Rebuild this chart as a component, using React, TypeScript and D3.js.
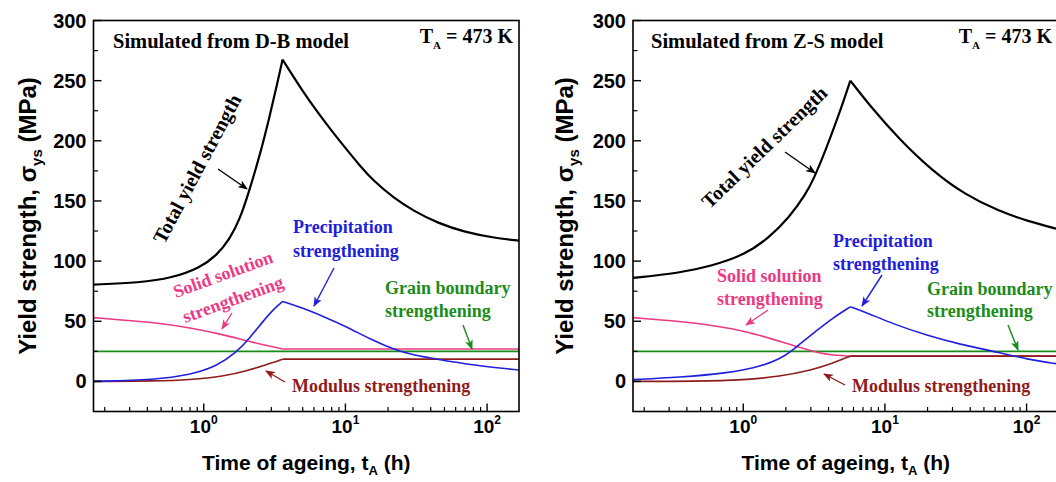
import React from 'react';
import * as d3 from 'd3';

type Pt = [number, number];

// ---------- axes ----------
const X_DOMAIN: [number, number] = [1 / 6, 168];
const Y_DOMAIN: [number, number] = [-25, 300];
const X_MAJOR = [1, 10, 100];
const X_MAJOR_EXP = ['0', '1', '2'];
const Y_MAJOR = [0, 50, 100, 150, 200, 250, 300];
const Y_MINOR = [25, 75, 125, 175, 225, 275];

// ---------- D-B model (left) ----------
const DB_PEAK_T = 3.6;
const dbTotal: Pt[] = [
  [0.167, 80.5], [0.35, 82], [0.6, 86], [0.94, 94.5], [1.23, 104.5], [1.53, 118.5], [1.8, 135],
  [2.06, 155.5], [2.49, 188], [2.93, 221], [3.35, 251], [3.6, 267.5], [5, 241], [6.25, 225],
  [8.15, 207], [10, 194], [12.7, 179], [16, 166], [22, 152.5], [30, 142], [45, 131.5],
  [70, 124], [110, 119.5], [168, 117],
];
const dbSolid: Pt[] = [
  [0.167, 53], [0.46, 49], [0.8, 44.5], [1.37, 39], [2.11, 33], [3.6, 27], [168, 27],
];
const dbGrain: Pt[] = [[0.167, 25], [168, 25]];
const dbModulus: Pt[] = [
  [0.167, 0], [0.46, 0.3], [0.8, 1.4], [1.37, 4], [2.11, 9.5], [2.77, 14], [3.3, 16.7],
  [3.6, 18.5], [168, 18.5],
];
const dbPrecip: Pt[] = [
  [0.167, 0], [0.46, 1.4], [0.8, 5.5], [1.23, 12.5], [1.7, 24], [2.11, 36], [2.62, 50],
  [3.17, 61], [3.6, 66.5], [5, 61], [7, 54], [10, 46], [15, 35], [22, 26.5], [30, 22],
  [44, 18.5], [80, 13.5], [168, 9.5],
];

// ---------- Z-S model (right) ----------
const ZS_PEAK_T = 5.7;
const zsTotal: Pt[] = [
  [0.167, 86], [0.35, 90], [0.6, 96], [1.04, 105.5], [1.52, 119.5], [2.1, 136],
  [2.76, 155.5], [3.15, 168.5], [3.81, 192], [4.49, 214.5], [5.14, 234], [5.7, 250],
  [8.1, 227], [12.6, 201.5], [21.6, 175], [37, 155], [64, 141.5], [100, 133.5], [168, 126.5],
];
const zsSolid: Pt[] = [
  [0.167, 53], [0.46, 49], [1.04, 42], [1.79, 33.5], [3.07, 25], [4.03, 22], [5.7, 21], [168, 21],
];
const zsGrain: Pt[] = [[0.167, 25], [168, 25]];
const zsModulus: Pt[] = [
  [0.167, 0], [0.46, 0], [1.04, 1.3], [1.79, 4], [3.07, 9.5], [4.25, 15], [5.7, 21], [168, 21],
];
const zsPrecip: Pt[] = [
  [0.167, 1.5], [0.35, 3.3], [0.79, 7], [1.36, 12.5], [1.99, 21], [2.47, 30.5], [3.24, 41.5],
  [4.25, 52.5], [5.7, 62], [7.5, 57], [11.3, 48], [20, 38], [33.3, 31], [64, 24], [100, 18.5],
  [168, 14.5],
];

// ---------- styling ----------
const C_TOTAL = '#000000';
const C_SOLID = '#ea3a84';
const C_GRAIN = '#1a8c1a';
const C_MOD = '#8e1c1c';
const C_PREC = '#2020dc';
const SANS = '"Liberation Sans", Arial, sans-serif';
const SERIF = '"Liberation Serif", "Times New Roman", serif';

const FRAME_W = 425.5;
const Y_TOP = 20.5;
const Y_BOT = 411.5;

type Series = { pts: Pt[]; color: string; width: number; split: boolean };

type Label = {
  lines: string[];
  x: number;
  y: number;
  color: string;
  rotate?: number;
  lineGap?: number;
  anchor?: 'start' | 'middle' | 'end';
  size?: number;
};

type Arrow = { x1: number; y1: number; x2: number; y2: number; color: string };

function markerId(color: string) {
  return 'ah' + color.replace('#', '');
}

function Panel(props: {
  x0: number;
  peak: number;
  series: Series[];
  title: string;
  titleX: number;
  taX: number;
  yTitleX: number;
  labels: Label[];
  arrows: Arrow[];
  clipId: string;
}) {
  const { x0, peak, series, title, titleX, taX, yTitleX, labels, arrows, clipId } = props;
  const x = d3.scaleLog().domain(X_DOMAIN).range([x0, x0 + FRAME_W]);
  const y = d3.scaleLinear().domain(Y_DOMAIN).range([Y_BOT, Y_TOP]);
  const line = d3
    .line<Pt>()
    .x((d) => x(d[0]))
    .y((d) => y(d[1]))
    .curve(d3.curveBasis);

  const minor: number[] = [];
  for (let e = -1; e <= 2; e++) {
    for (let m = 2; m <= 9; m++) {
      const v = m * Math.pow(10, e);
      if (v > X_DOMAIN[0] && v < X_DOMAIN[1]) minor.push(v);
    }
  }

  const paths: string[][] = series.map((s) => {
    if (!s.split) return [line(s.pts) || ''];
    const a = s.pts.filter((p) => p[0] <= peak);
    const b = s.pts.filter((p) => p[0] >= peak);
    return [line(a) || '', line(b) || ''];
  });

  const cx = x0 + FRAME_W / 2;
  const cy = (Y_TOP + Y_BOT) / 2;

  return (
    <g>
      <clipPath id={clipId}>
        <rect x={x0} y={Y_TOP} width={FRAME_W} height={Y_BOT - Y_TOP} />
      </clipPath>
      <g clipPath={`url(#${clipId})`}>
        {series.map((s, i) =>
          paths[i].map((d, j) => (
            <path key={`${i}-${j}`} d={d} fill="none" stroke={s.color} strokeWidth={s.width} strokeLinejoin="round" />
          ))
        )}
      </g>
      {/* frame */}
      <rect x={x0} y={Y_TOP} width={FRAME_W} height={Y_BOT - Y_TOP} fill="none" stroke="#000" strokeWidth={1.6} />
      {/* x ticks */}
      {X_MAJOR.map((v, i) => (
        <g key={'xm' + v}>
          <line x1={x(v)} x2={x(v)} y1={Y_BOT} y2={Y_BOT - 8} stroke="#000" strokeWidth={1.4} />
          <text x={x(v)} y={433} textAnchor="middle" fontFamily={SANS} fontWeight="bold" fontSize={19}>
            10
            <tspan fontSize={12} dy={-9}>{X_MAJOR_EXP[i]}</tspan>
          </text>
        </g>
      ))}
      {minor.map((v) => (
        <line key={'xn' + v} x1={x(v)} x2={x(v)} y1={Y_BOT} y2={Y_BOT - 4.5} stroke="#000" strokeWidth={1.2} />
      ))}
      {/* y ticks */}
      {Y_MAJOR.map((v) => (
        <g key={'ym' + v}>
          <line x1={x0} x2={x0 + 8} y1={y(v)} y2={y(v)} stroke="#000" strokeWidth={1.4} />
          <text x={x0 - 7} y={y(v) + 7} textAnchor="end" fontFamily={SANS} fontWeight="bold" fontSize={20}>
            {v}
          </text>
        </g>
      ))}
      {Y_MINOR.map((v) => (
        <line key={'yn' + v} x1={x0} x2={x0 + 4.5} y1={y(v)} y2={y(v)} stroke="#000" strokeWidth={1.2} />
      ))}
      {/* axis titles */}
      <text x={cx} y={470} textAnchor="middle" fontFamily={SANS} fontWeight="bold" fontSize={21}>
        Time of ageing, t
        <tspan fontSize={13} dy={5}>A</tspan>
        <tspan dy={-5}> (h)</tspan>
      </text>
      <text
        transform={`translate(${yTitleX},${cy}) rotate(-90)`}
        textAnchor="middle"
        fontFamily={SANS}
        fontWeight="bold"
        fontSize={24}
      >
        Yield strength, σ
        <tspan fontSize={15} dy={6}>ys</tspan>
        <tspan dy={-6}> (MPa)</tspan>
      </text>
      {/* panel title */}
      <text x={titleX} y={48} fontFamily={SERIF} fontWeight="bold" fontSize={20.5}>
        {title}
      </text>
      <text x={taX} y={43} textAnchor="end" fontFamily={SERIF} fontWeight="bold" fontSize={20}>
        T<tspan fontSize={11} dy={6}>A</tspan>
        <tspan dy={-6}> = 473 K</tspan>
      </text>
      {/* annotations */}
      {labels.map((l, i) => {
        const gap = l.lineGap ?? 23;
        const size = l.size ?? 18;
        const tr = l.rotate !== undefined ? `translate(${l.x},${l.y}) rotate(${l.rotate})` : `translate(${l.x},${l.y})`;
        return (
          <text
            key={'lb' + i}
            transform={tr}
            fill={l.color}
            fontFamily={SERIF}
            fontWeight="bold"
            fontSize={size}
            textAnchor={l.anchor ?? 'start'}
          >
            {l.lines.map((s, j) => (
              <tspan key={j} x={0} y={j * gap}>
                {s}
              </tspan>
            ))}
          </text>
        );
      })}
      {arrows.map((a, i) => (
        <line
          key={'ar' + i}
          x1={a.x1}
          y1={a.y1}
          x2={a.x2}
          y2={a.y2}
          stroke={a.color}
          strokeWidth={1.4}
          markerEnd={`url(#${markerId(a.color)})`}
        />
      ))}
    </g>
  );
}

export default function App() {
  const colors = [C_TOTAL, C_SOLID, C_GRAIN, C_MOD, C_PREC];
  const leftSeries: Series[] = [
    { pts: dbGrain, color: C_GRAIN, width: 1.6, split: false },
    { pts: dbSolid, color: C_SOLID, width: 1.6, split: true },
    { pts: dbModulus, color: C_MOD, width: 1.6, split: true },
    { pts: dbPrecip, color: C_PREC, width: 1.6, split: true },
    { pts: dbTotal, color: C_TOTAL, width: 2.2, split: true },
  ];
  const rightSeries: Series[] = [
    { pts: zsGrain, color: C_GRAIN, width: 1.6, split: false },
    { pts: zsSolid, color: C_SOLID, width: 1.6, split: true },
    { pts: zsModulus, color: C_MOD, width: 1.6, split: true },
    { pts: zsPrecip, color: C_PREC, width: 1.6, split: true },
    { pts: zsTotal, color: C_TOTAL, width: 2.2, split: true },
  ];

  const leftLabels: Label[] = [
    { lines: ['Total yield strength'], x: 203, y: 172, rotate: -62, anchor: 'middle', color: C_TOTAL, size: 20 },
    { lines: ['Precipitation', 'strengthening'], x: 293, y: 233, color: C_PREC, lineGap: 24 },
    { lines: ['Solid solution'], x: 225, y: 280, rotate: -20, anchor: 'middle', color: C_SOLID },
    { lines: ['strengthening'], x: 235, y: 305, rotate: -20, anchor: 'middle', color: C_SOLID },
    { lines: ['Grain boundary', 'strengthening'], x: 385, y: 294, color: C_GRAIN, lineGap: 23 },
    { lines: ['Modulus strengthening'], x: 292, y: 392, color: C_MOD },
  ];
  const leftArrows: Arrow[] = [
    { x1: 218, y1: 169, x2: 247, y2: 189, color: C_TOTAL },
    { x1: 334, y1: 268, x2: 314, y2: 306, color: C_PREC },
    { x1: 232, y1: 313, x2: 222, y2: 329, color: C_SOLID },
    { x1: 463, y1: 325, x2: 472, y2: 349, color: C_GRAIN },
    { x1: 285, y1: 382, x2: 266, y2: 371, color: C_MOD },
  ];

  const rightLabels: Label[] = [
    { lines: ['Total yield strength'], x: 769, y: 152, rotate: -44, anchor: 'middle', color: C_TOTAL, size: 20 },
    { lines: ['Precipitation', 'strengthening'], x: 833, y: 247, color: C_PREC, lineGap: 23 },
    { lines: ['Solid solution', 'strengthening'], x: 717, y: 282, color: C_SOLID, lineGap: 23 },
    { lines: ['Grain boundary', 'strengthening'], x: 927, y: 295, color: C_GRAIN, lineGap: 22 },
    { lines: ['Modulus strengthening'], x: 852, y: 392, color: C_MOD },
  ];
  const rightArrows: Arrow[] = [
    { x1: 785, y1: 152, x2: 815, y2: 173, color: C_TOTAL },
    { x1: 882, y1: 275, x2: 862, y2: 306, color: C_PREC },
    { x1: 768, y1: 310, x2: 746, y2: 325, color: C_SOLID },
    { x1: 1008, y1: 325, x2: 1018, y2: 350, color: C_GRAIN },
    { x1: 845, y1: 385, x2: 824, y2: 374, color: C_MOD },
  ];

  return (
    <svg
      width={1056}
      height={482}
      viewBox="0 0 1056 482"
      style={{ position: 'absolute', left: 0, top: 0, background: '#fff' }}
    >
      <defs>
        {colors.map((c) => (
          <marker
            key={c}
            id={markerId(c)}
            markerUnits="userSpaceOnUse"
            markerWidth={10}
            markerHeight={8}
            refX={9}
            refY={4}
            orient="auto"
          >
            <path d="M0,0 L10,4 L0,8 L2.5,4 Z" fill={c} />
          </marker>
        ))}
      </defs>
      <rect x={0} y={0} width={1056} height={482} fill="#fff" />
      <Panel
        x0={93.5}
        peak={DB_PEAK_T}
        series={leftSeries}
        title="Simulated from D-B model"
        titleX={113}
        taX={513}
        yTitleX={36}
        labels={leftLabels}
        arrows={leftArrows}
        clipId="clipL"
      />
      <Panel
        x0={633}
        peak={ZS_PEAK_T}
        series={rightSeries}
        title="Simulated from Z-S model"
        titleX={651}
        taX={1052}
        yTitleX={573}
        labels={rightLabels}
        arrows={rightArrows}
        clipId="clipR"
      />
    </svg>
  );
}
